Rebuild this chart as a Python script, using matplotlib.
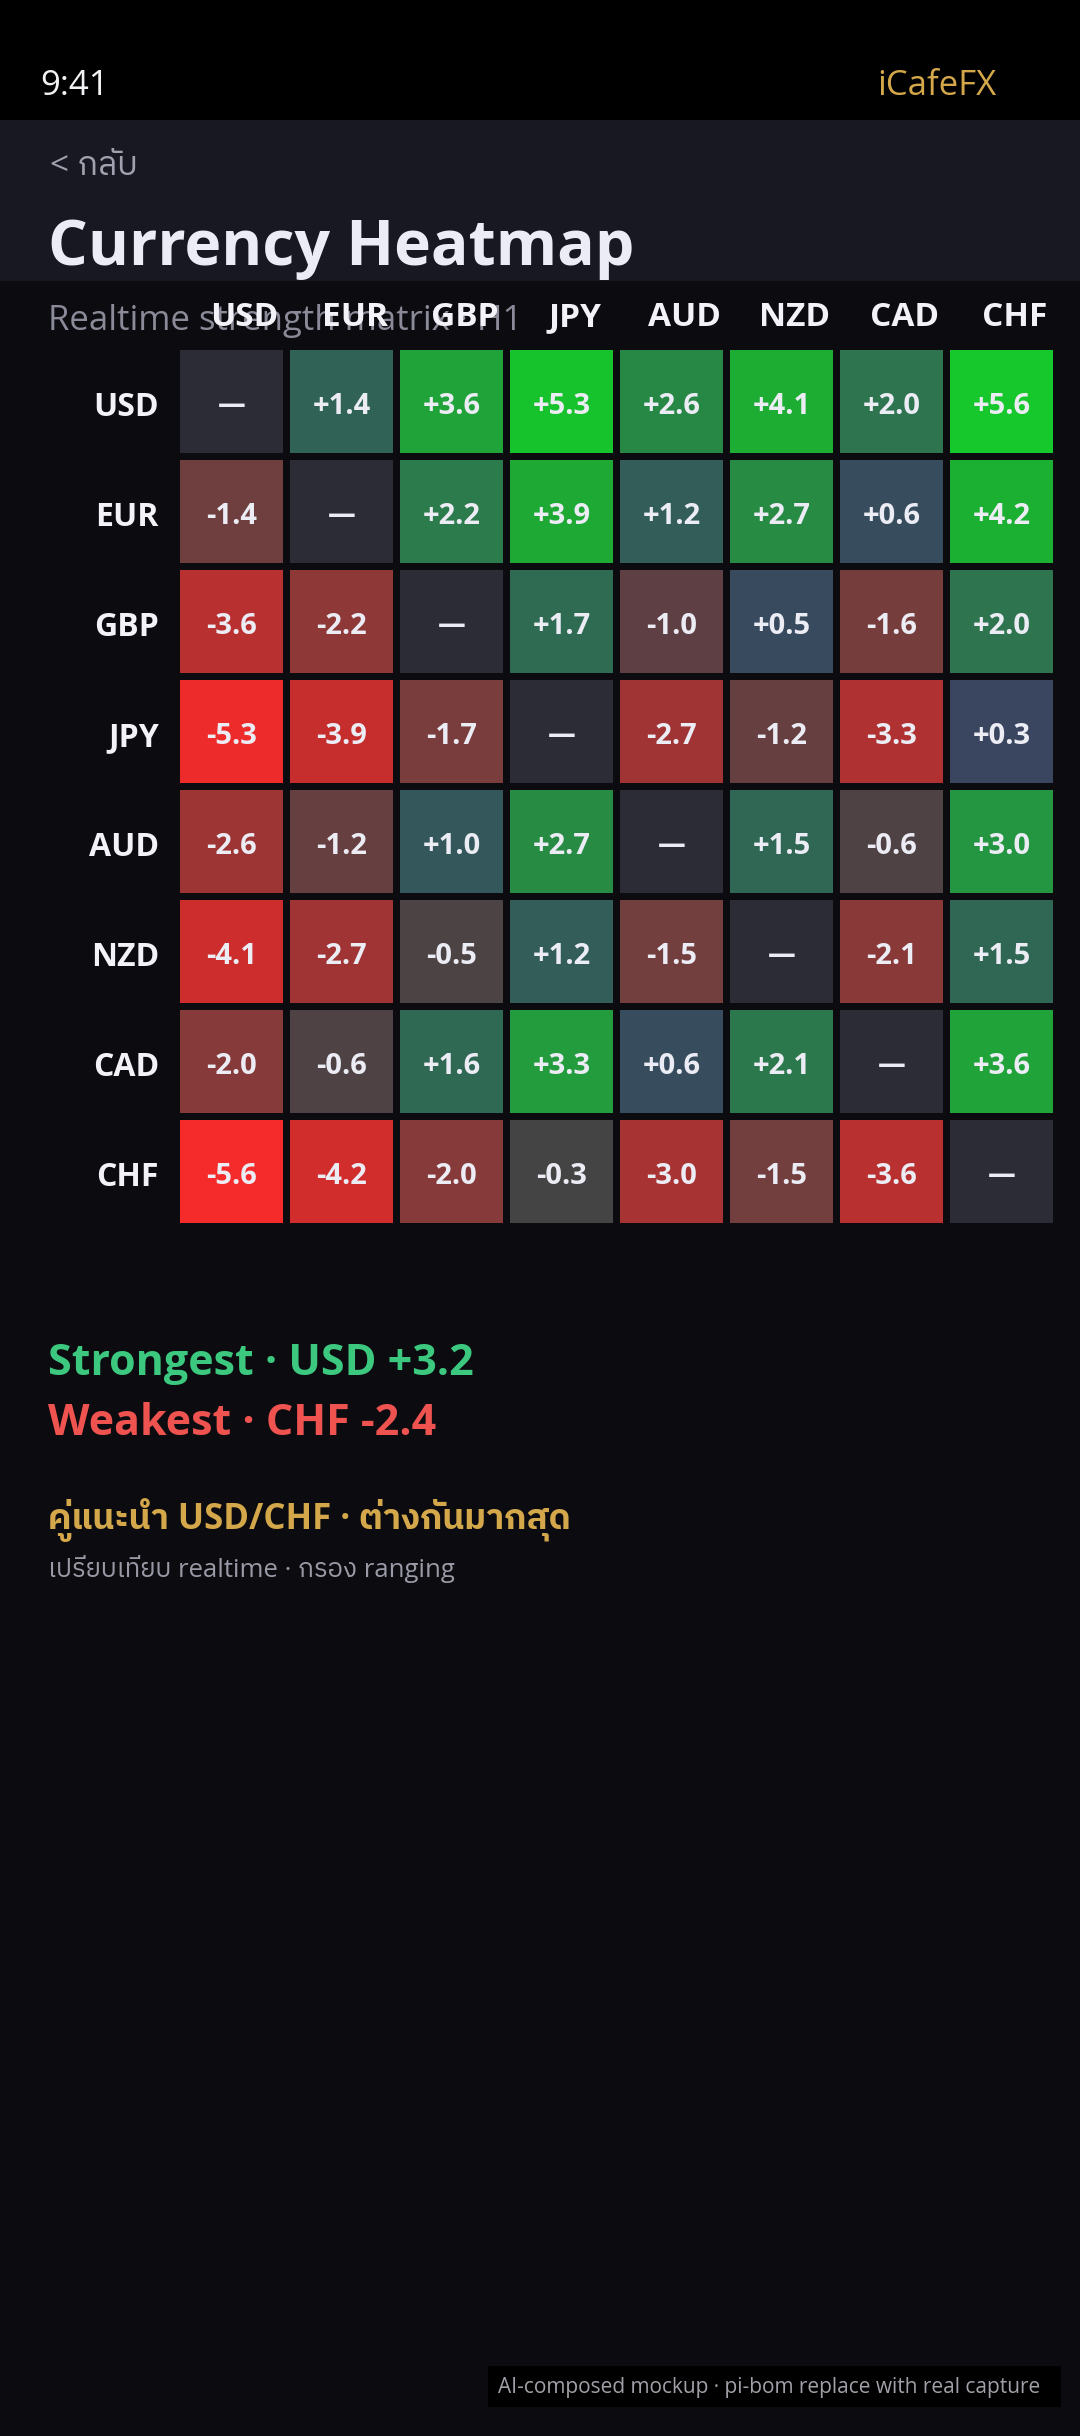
import matplotlib
matplotlib.use("Agg")
import matplotlib.pyplot as plt
from matplotlib import font_manager as fm
from matplotlib.colors import LinearSegmentedColormap, Normalize
from matplotlib.patches import Rectangle

# data
currencies = ["USD", "EUR", "GBP", "JPY", "AUD", "NZD", "CAD", "CHF"]
usd = [None, 1.4, 3.6, 5.3, 2.6, 4.1, 2.0, 5.6]
eur = [-1.4, None, 2.2, 3.9, 1.2, 2.7, 0.6, 4.2]
gbp = [-3.6, -2.2, None, 1.7, -1.0, 0.5, -1.6, 2.0]
jpy = [-5.3, -3.9, -1.7, None, -2.7, -1.2, -3.3, 0.3]
aud = [-2.6, -1.2, 1.0, 2.7, None, 1.5, -0.6, 3.0]
nzd = [-4.1, -2.7, -0.5, 1.2, -1.5, None, -2.1, 1.5]
cad = [-2.0, -0.6, 1.6, 3.3, 0.6, 2.1, None, 3.6]
chf = [-5.6, -4.2, -2.0, -0.3, -3.0, -1.5, -3.6, None]
matrix = [usd, eur, gbp, jpy, aud, nzd, cad, chf]

strongest = ("USD", 3.2)
weakest = ("CHF", -2.4)

# colour stops (value -> colour)
stop_vals = [-5.6, -4.1, -3.6, -2.7, -2.0, -1.4, -1.0, -0.3, 0.3, 1.0, 2.0, 3.0, 4.2, 5.6]
stop_cols = ["#f52a2a", "#cd2d2d", "#b83030", "#a03434", "#873a3a", "#6e3f3f", "#5e4044",
             "#454444", "#3a4560", "#33575a", "#2d744f", "#249540", "#1caf32", "#16c82c"]

vmin, vmax = stop_vals[0], stop_vals[-1]
cmap = LinearSegmentedColormap.from_list(
    "fx", [((v - vmin) / (vmax - vmin), c) for v, c in zip(stop_vals, stop_cols)])
norm = Normalize(vmin, vmax)

SANS = ["Open Sans", "Noto Sans", "DejaVu Sans"]
thai = sorted({f.name for f in fm.fontManager.ttflist if "Thai" in f.name})
THAI = SANS[:1] + thai + SANS[1:]
plt.rcParams["font.family"] = THAI

W, H = 1080, 2436
fig = plt.figure(figsize=(W / 100, H / 100), dpi=100)
fig.patch.set_facecolor("#0b0b10")

bg = fig.add_axes([0, 0, 1, 1])
bg.set_xlim(0, W)
bg.set_ylim(H, 0)
bg.axis("off")

# status bar + header band
bg.add_patch(Rectangle((0, 0), W, 120, color="#000000", lw=0))
bg.add_patch(Rectangle((0, 120), W, 161, color="#181822", lw=0))
bg.text(40, 95, "9:41", fontsize=25, color="#f2f2f5", va="baseline")
bg.text(996, 95, "iCafeFX", fontsize=25, color="#d4a84a", va="baseline", ha="right")

bg.text(50, 175, "< กลับ", fontsize=24, color="#a0a0ae", va="baseline")
bg.text(48, 265, "Currency Heatmap", fontsize=45, fontweight="bold", color="#ececf6",
        va="baseline")
bg.text(48, 330, "Realtime strength matrix · H1", fontsize=25, color="#8a8a98",
        va="baseline")

# heatmap
pitch = 110
left, top = 176.5, 346.5
n = len(currencies)
ax = fig.add_axes([left / W, 1 - (top + n * pitch) / H, n * pitch / W, n * pitch / H])
ax.set_xlim(-0.5, n - 0.5)
ax.set_ylim(n - 0.5, -0.5)
ax.axis("off")

size = 103 / pitch
for i, row in enumerate(matrix):
    for j, v in enumerate(row):
        if v is None:
            ax.add_patch(Rectangle((j - size / 2, i - size / 2), size, size,
                                   color="#2c2c36", lw=0))
            ax.text(j, i + 4 / pitch, "—", ha="center", va="center", fontsize=20,
                    fontweight="bold", color="#ececf5")
            continue
        ax.add_patch(Rectangle((j - size / 2, i - size / 2), size, size,
                               color=cmap(norm(v)), lw=0))
        ax.text(j, i + 13 / pitch, f"{v:+.1f}", ha="center", va="baseline", fontsize=21,
                fontweight="bold", color="#ececf5")

for k, name in enumerate(currencies):
    ax.text(k + 0.12, -0.5 - 20 / pitch, name, ha="center", va="baseline", fontsize=24,
            fontweight="bold", color="#f2f2f8", clip_on=False)
    ax.text(-0.5 - 17.5 / pitch, k + 15 / pitch, name, ha="right", va="baseline",
            fontsize=23, fontweight="bold", color="#f2f2f8", clip_on=False)

# summary
bg.text(48, 1375, f"Strongest · {strongest[0]} {strongest[1]:+.1f}", fontsize=31,
        fontweight="bold", color="#3cc97f", va="baseline")
bg.text(48, 1435, f"Weakest · {weakest[0]} {weakest[1]:+.1f}", fontsize=31,
        fontweight="bold", color="#ef5350", va="baseline")
bg.text(48, 1529, f"คู่แนะนำ {strongest[0]}/{weakest[0]} · ต่างกันมากสุด", fontsize=25,
        fontweight="bold", color="#d4a84a", va="baseline")
bg.text(48, 1577, "เปรียบเทียบ realtime · กรอง ranging", fontsize=18.5, color="#9a9aa6",
        va="baseline")

# watermark
bg.add_patch(Rectangle((488, 2366), 573, 41, color="#000000", lw=0))
bg.text(498, 2387, "AI-composed mockup · pi-bom replace with real capture", fontsize=15,
        color="#a0a0a8", va="center")

fig.savefig("out.png", dpi=100, facecolor=fig.get_facecolor())
